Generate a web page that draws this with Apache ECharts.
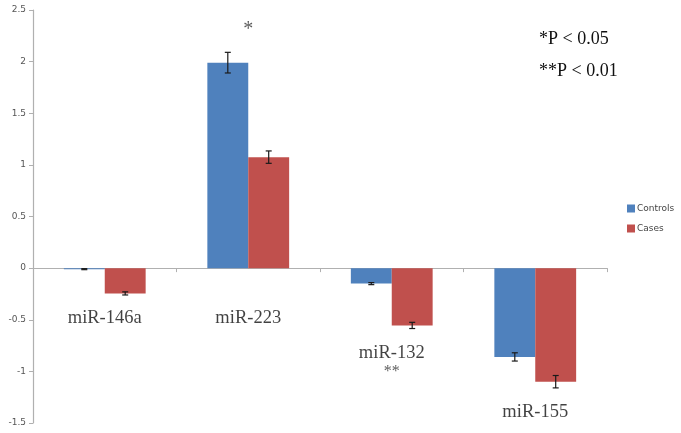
<!DOCTYPE html>
<html>
<head>
<meta charset="utf-8">
<script src="https://cdn.jsdelivr.net/npm/echarts@6/dist/echarts.min.js"></script>
<style>html,body{margin:0;padding:0;background:#fff;}#c{width:681px;height:433px;}</style>
</head>
<body>
<div id="c"></div>
<script>
const categories = ['miR-146a', 'miR-223', 'miR-132', 'miR-155'];
const controls = [-0.01, 1.99, -0.15, -0.86];
const controlsErr = [0.005, 0.10, 0.01, 0.04];
const cases = [-0.245, 1.075, -0.555, -1.10];
const casesErr = [0.015, 0.06, 0.03, 0.06];
const significance = ['', '*', '**', ''];
const yTicks = { min: -1.5, max: 2.5, interval: 0.5 };

const chart = echarts.init(document.getElementById('c'));
const BLUE = '#4F81BD', RED = '#C0504D';
const GAP = 0.43;

// label anchors in value space (placement of category names under the bars)
const nameAnchor = [-0.48, -0.48, -0.82, -1.39];
const sigAnchor = [null, 2.31, -1.0, null];

function errSeries(name, vals, errs, side) {
  return {
    type: 'custom',
    name: name + ' err',
    z: 5,
    renderItem: function (params, api) {
      const i = api.value(0);
      const v = api.value(1), e = api.value(2);
      const bandW = api.size([1, 0])[0];
      const barW = bandW * (1 - GAP) / 2;
      const c = api.coord([i, v]);
      const x = c[0] + side * barW / 2;
      const top = api.coord([i, v + e])[1];
      const bot = api.coord([i, v - e])[1];
      const cap = 3;
      const st = { stroke: '#1a1a1a', lineWidth: 1.2 };
      return {
        type: 'group',
        children: [
          { type: 'line', shape: { x1: x, y1: top, x2: x, y2: bot }, style: st },
          { type: 'line', shape: { x1: x - cap, y1: top, x2: x + cap, y2: top }, style: st },
          { type: 'line', shape: { x1: x - cap, y1: bot, x2: x + cap, y2: bot }, style: st }
        ]
      };
    },
    data: vals.map((v, i) => [i, v, errs[i]]),
    silent: true
  };
}

const nameData = categories.map((c, i) => ({ value: [i, nameAnchor[i]], label: { formatter: c } }));
const sigData = significance.map((s, i) => s ? ({ value: [i, sigAnchor[i]], label: { formatter: s, fontSize: s === '*' ? 20 : 16 } }) : null).filter(Boolean);

chart.setOption({
  animation: false,
  grid: { left: 33, right: 74, top: 10, bottom: 10, containLabel: false },
  legend: {
    data: ['Controls', 'Cases'],
    orient: 'vertical',
    left: 622,
    top: 199,
    itemWidth: 8,
    itemHeight: 8,
    itemGap: 11,
    icon: 'rect',
    textStyle: { fontFamily: 'DejaVu Sans', fontSize: 9, color: '#444', padding: [0, 0, 0, -3] }
  },
  xAxis: {
    type: 'category',
    data: categories,
    axisLine: { onZero: true, lineStyle: { color: '#b0b0b0', width: 1.2 } },
    axisTick: { show: true, length: 4, lineStyle: { color: '#b0b0b0' } },
    axisLabel: { show: false },
    splitLine: { show: false }
  },
  yAxis: {
    type: 'value',
    min: yTicks.min, max: yTicks.max, interval: yTicks.interval,
    axisLine: { show: true, lineStyle: { color: '#b0b0b0', width: 1.2 } },
    axisTick: { show: true, length: 4, lineStyle: { color: '#b0b0b0' } },
    axisLabel: { fontFamily: 'DejaVu Sans', fontSize: 9, color: '#555', margin: 7 },
    splitLine: { show: false }
  },
  series: [
    { name: 'Controls', type: 'bar', data: controls, itemStyle: { color: BLUE }, barGap: '0%', barCategoryGap: (GAP * 100) + '%' },
    { name: 'Cases', type: 'bar', data: cases, itemStyle: { color: RED }, barGap: '0%', barCategoryGap: (GAP * 100) + '%' },
    errSeries('Controls', controls, controlsErr, -1),
    errSeries('Cases', cases, casesErr, 1),
    {
      type: 'scatter', symbolSize: 0, silent: true,
      label: { show: true, position: 'inside', fontFamily: 'Liberation Serif', fontSize: 18.5, color: '#111' },
      data: nameData
    },
    {
      type: 'scatter', symbolSize: 0, silent: true,
      label: { show: true, position: 'inside', fontFamily: 'Liberation Serif', fontSize: 16, color: '#333' },
      data: sigData
    }
  ],
  graphic: [
    { type: 'text', left: 539, top: 30, style: { text: '*P < 0.05', font: '18px "Liberation Serif"', fill: '#111' } },
    { type: 'text', left: 539, top: 62, style: { text: '**P < 0.01', font: '18px "Liberation Serif"', fill: '#111' } }
  ]
});
</script>
</body>
</html>
